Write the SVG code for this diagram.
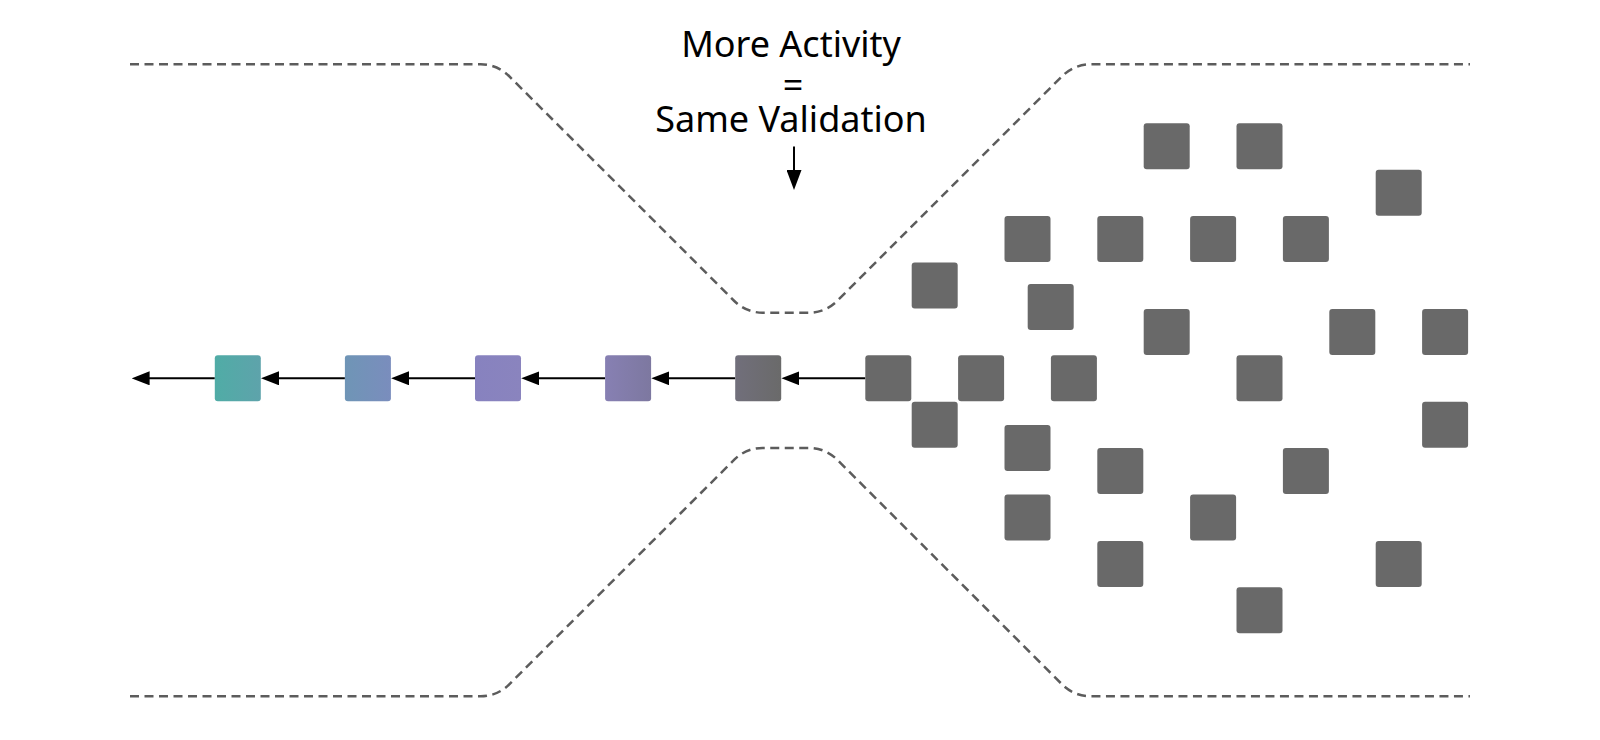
<svg xmlns="http://www.w3.org/2000/svg" width="1600" height="740" viewBox="0 0 1600 740">
  <style>
    .bound { fill: none; stroke: #5c5c5c; stroke-width: 2.5; stroke-dasharray: 9 5.5; }
    .sq { fill: #696969; }
    .chain { fill: url(#chainGrad); }
    .conn { stroke: #000; stroke-width: 2; fill: none; }
    .label { font-family: "Noto Sans", "Open Sans", sans-serif; font-size: 36px; fill: #000; text-anchor: middle; }
  </style>
  <defs>
    <linearGradient id="chainGrad" gradientUnits="userSpaceOnUse" x1="215" y1="0" x2="781" y2="0">
      <stop offset="0" stop-color="#50aca6"/>
      <stop offset="0.081" stop-color="#5ea3ab"/>
      <stop offset="0.23" stop-color="#6f95b6"/>
      <stop offset="0.311" stop-color="#7a8dbd"/>
      <stop offset="0.459" stop-color="#8782bf"/>
      <stop offset="0.541" stop-color="#8a84be"/>
      <stop offset="0.689" stop-color="#8780b3"/>
      <stop offset="0.77" stop-color="#7d78a0"/>
      <stop offset="0.919" stop-color="#716f7b"/>
      <stop offset="1" stop-color="#6a6a6a"/>
    </linearGradient>
    <marker id="ah" markerUnits="userSpaceOnUse" viewBox="0 0 18 14" markerWidth="18" markerHeight="14" refX="7" refY="7" orient="auto">
      <path d="M0,0 L18,7 L0,14 z" fill="#000"/>
    </marker>
    <marker id="ahBig" markerUnits="userSpaceOnUse" viewBox="0 0 20 15" markerWidth="20" markerHeight="15" refX="10" refY="7.5" orient="auto">
      <path d="M0,0 L20,7.5 L0,15 z" fill="#000"/>
    </marker>
  </defs>

  <rect x="0" y="0" width="1600" height="740" fill="#fff"/>

  <g id="boundary">
    <path class="bound" d="M130,64.3 H480.7 A40,40 0 0 1 509,76 L734.3,301 A40,40 0 0 0 762.6,312.7 H808.8 A40,40 0 0 0 837.1,301 L1062.3,76 A40,40 0 0 1 1090.6,64.3 H1470"/>
    <path class="bound" d="M130,696.3 H480.7 A40,40 0 0 0 509,684.6 L734.3,459.6 A40,40 0 0 1 762.6,447.9 H808.8 A40,40 0 0 1 837.1,459.6 L1062.3,684.6 A40,40 0 0 0 1090.6,696.3 H1470"/>
  </g>

  <g id="title">
    <text class="label" x="791" y="56.5">More Activity</text>
    <text class="label" x="793" y="98">=</text>
    <text class="label" x="791" y="131.5">Same Validation</text>
  </g>

  <g id="connectors">
    <line class="conn" x1="794" y1="146.5" x2="794" y2="180" marker-end="url(#ahBig)"/>
    <line class="conn" x1="865.3" y1="378.3" x2="792.4" y2="378.3" marker-end="url(#ah)"/>
    <line class="conn" x1="735.2" y1="378.3" x2="662.3" y2="378.3" marker-end="url(#ah)"/>
    <line class="conn" x1="605.1" y1="378.3" x2="532.2" y2="378.3" marker-end="url(#ah)"/>
    <line class="conn" x1="475" y1="378.3" x2="402.1" y2="378.3" marker-end="url(#ah)"/>
    <line class="conn" x1="344.9" y1="378.3" x2="272" y2="378.3" marker-end="url(#ah)"/>
    <line class="conn" x1="214.8" y1="378.3" x2="142.6" y2="378.3" marker-end="url(#ah)"/>
  </g>

  <g id="chain-1"><rect class="chain" x="214.8" y="355.3" width="46" height="46" rx="3"/></g>
  <g id="chain-2"><rect class="chain" x="344.9" y="355.3" width="46" height="46" rx="3"/></g>
  <g id="chain-3"><rect class="chain" x="475" y="355.3" width="46" height="46" rx="3"/></g>
  <g id="chain-4"><rect class="chain" x="605.1" y="355.3" width="46" height="46" rx="3"/></g>
  <g id="chain-5"><rect class="chain" x="735.2" y="355.3" width="46" height="46" rx="3"/></g>

  <g id="sq-head"><rect class="sq" x="865.3" y="355.3" width="46" height="46" rx="3"/></g>

  <g id="sq-r0-a"><rect class="sq" x="1143.7" y="123.3" width="46" height="46" rx="3"/></g>
  <g id="sq-r0-b"><rect class="sq" x="1236.5" y="123.3" width="46" height="46" rx="3"/></g>
  <g id="sq-r1-a"><rect class="sq" x="1375.7" y="169.7" width="46" height="46" rx="3"/></g>
  <g id="sq-r2-a"><rect class="sq" x="1004.5" y="216.1" width="46" height="46" rx="3"/></g>
  <g id="sq-r2-b"><rect class="sq" x="1097.3" y="216.1" width="46" height="46" rx="3"/></g>
  <g id="sq-r2-c"><rect class="sq" x="1190.1" y="216.1" width="46" height="46" rx="3"/></g>
  <g id="sq-r2-d"><rect class="sq" x="1282.9" y="216.1" width="46" height="46" rx="3"/></g>
  <g id="sq-r3-a"><rect class="sq" x="911.7" y="262.5" width="46" height="46" rx="3"/></g>
  <g id="sq-r3h-a"><rect class="sq" x="1027.7" y="284" width="46" height="46" rx="3"/></g>
  <g id="sq-r4-a"><rect class="sq" x="1143.7" y="308.9" width="46" height="46" rx="3"/></g>
  <g id="sq-r4-b"><rect class="sq" x="1329.3" y="308.9" width="46" height="46" rx="3"/></g>
  <g id="sq-r4-c"><rect class="sq" x="1422.1" y="308.9" width="46" height="46" rx="3"/></g>
  <g id="sq-r5-a"><rect class="sq" x="958.1" y="355.3" width="46" height="46" rx="3"/></g>
  <g id="sq-r5-b"><rect class="sq" x="1050.9" y="355.3" width="46" height="46" rx="3"/></g>
  <g id="sq-r5-c"><rect class="sq" x="1236.5" y="355.3" width="46" height="46" rx="3"/></g>
  <g id="sq-r6-a"><rect class="sq" x="911.7" y="401.7" width="46" height="46" rx="3"/></g>
  <g id="sq-r6-b"><rect class="sq" x="1422.1" y="401.7" width="46" height="46" rx="3"/></g>
  <g id="sq-r6h-a"><rect class="sq" x="1004.5" y="424.9" width="46" height="46" rx="3"/></g>
  <g id="sq-r7-a"><rect class="sq" x="1097.3" y="448.1" width="46" height="46" rx="3"/></g>
  <g id="sq-r7-b"><rect class="sq" x="1282.9" y="448.1" width="46" height="46" rx="3"/></g>
  <g id="sq-r8-a"><rect class="sq" x="1004.5" y="494.5" width="46" height="46" rx="3"/></g>
  <g id="sq-r8-b"><rect class="sq" x="1190.1" y="494.5" width="46" height="46" rx="3"/></g>
  <g id="sq-r9-a"><rect class="sq" x="1097.3" y="540.9" width="46" height="46" rx="3"/></g>
  <g id="sq-r9-b"><rect class="sq" x="1375.7" y="540.9" width="46" height="46" rx="3"/></g>
  <g id="sq-r10-a"><rect class="sq" x="1236.5" y="587.3" width="46" height="46" rx="3"/></g>
</svg>
